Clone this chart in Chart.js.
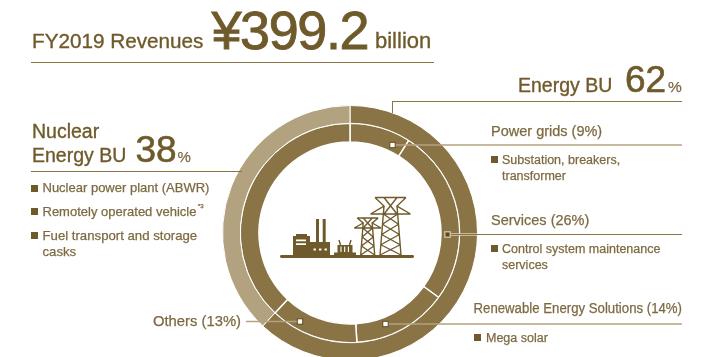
<!DOCTYPE html>
<html>
<head>
<meta charset="utf-8">
<title>FY2019 Revenues</title>
<script src="https://cdn.jsdelivr.net/npm/chart.js@4"></script>
<style>
    html, body { margin: 0; padding: 0; background: #fff; width: 722px; height: 357px; overflow: hidden; }
    #ringBox { position: absolute; left: 222px; top: 105px; width: 256px; height: 256px; }
    #overlay { position: absolute; left: 0; top: 0; }
    text { font-family: "Liberation Sans", Arial, sans-serif; fill: #7d6a42; stroke: #7d6a42; stroke-width: 0.25; }
    .head { fill: #6f5a2b; stroke: #6f5a2b; stroke-width: 0.35; }
    .big { fill: #6f5a2b; stroke: #6f5a2b; stroke-width: 0.9; }
    .lineDark { stroke: #8a7446; stroke-width: 1; }
    .lineLight { stroke: #b3a27f; stroke-width: 1.6; }
    .bullet { fill: #6f5a2b; }
    .anchor { fill: #fff; stroke: #5e4a20; stroke-width: 1; }
    .anchorDark { fill: #5e4a20; stroke: #d8cfb8; stroke-width: 1.2; }
    .icon { fill: #6f5a2b; }
    .lattice { fill: none; stroke: #6f5a2b; stroke-width: 1.4; }
</style>
</head>
<body>
<div id="ringBox"><canvas id="revenueChart" width="256" height="256"></canvas></div>
<svg id="overlay" width="722" height="357" xmlns="http://www.w3.org/2000/svg"></svg>
<script>
// FY2019 revenue split, in percent
const buNames = ['Energy BU', 'Nuclear Energy BU'];
const buValues = [62, 38];
const segmentNames = ['Power grids', 'Services', 'Renewable Energy Solutions', 'Others', 'Nuclear Energy BU'];
const segmentValues = [9, 26, 14, 13, 38];
const totalRevenue = '399.2';

const DARK = '#8a7446';
const LIGHT = '#b3a27f';

new Chart(document.getElementById('revenueChart'), {
    type: 'doughnut',
    data: {
        labels: buNames,
        datasets: [
            {
                label: 'Business unit',
                data: buValues,
                backgroundColor: [DARK, LIGHT],
                borderColor: '#fff',
                borderWidth: 1,
                weight: 18
            },
            {
                label: 'Segment',
                data: segmentValues,
                backgroundColor: DARK,
                borderColor: '#fff',
                borderWidth: 1.5,
                weight: 19
            }
        ]
    },
    options: {
        responsive: false,
        animation: false,
        cutout: 91,
        plugins: {
            legend: { display: false },
            tooltip: { enabled: false }
        }
    }
});

// Text, rules and the centre icon sit on top of the chart
const svg = document.getElementById('overlay');

function add(tag, attrs, content) {
    const el = document.createElementNS('http://www.w3.org/2000/svg', tag);
    Object.keys(attrs).forEach(k => el.setAttribute(k, attrs[k]));
    if (content !== undefined) el.textContent = content;
    svg.appendChild(el);
    return el;
}

function label(x, y, size, str, extra) {
    return add('text', Object.assign({ x: x, y: y, 'font-size': size }, extra || {}), str);
}

function rule(x1, y1, x2, y2, cls) {
    add('line', { x1: x1, y1: y1, x2: x2, y2: y2, class: cls });
}

function bullet(x, y) {
    add('rect', { x: x, y: y, width: 7, height: 7, class: 'bullet' });
}

function anchor(x, y, cls) {
    add('rect', { x: x - 2.7, y: y - 2.7, width: 5.4, height: 5.4, class: cls || 'anchor' });
}

// One pylon: mast, two arm levels and the cross bracing between the legs
function pylon(cx, top, arm, neckY, neckW, armTop, armMid, baseW, base, levels) {
    let d = `M${cx - armTop} ${top}H${cx + armTop}M${cx - armMid} ${arm}H${cx + armMid}`;
    d += `M${cx - armTop} ${top}L${cx - neckW} ${neckY}L${cx - armMid} ${arm}`;
    d += `M${cx + armTop} ${top}L${cx + neckW} ${neckY}L${cx + armMid} ${arm}`;
    d += `M${cx - neckW} ${top}L${cx + neckW} ${arm}M${cx + neckW} ${top}L${cx - neckW} ${arm}`;
    d += `M${cx - neckW} ${neckY}L${cx - baseW} ${base}M${cx + neckW} ${neckY}L${cx + baseW} ${base}`;
    const halfAt = y => neckW + (baseW - neckW) * (y - neckY) / (base - neckY);
    for (let i = 0; i < levels; i++) {
        const y1 = arm + (base - arm) * i / levels;
        const y2 = arm + (base - arm) * (i + 1) / levels;
        d += `M${cx - halfAt(y1)} ${y1}L${cx + halfAt(y2)} ${y2}M${cx + halfAt(y1)} ${y1}L${cx - halfAt(y2)} ${y2}`;
    }
    add('path', { class: 'lattice', d: d });
}

// Title
label(32, 48, 20.7, 'FY2019 Revenues', { class: 'head' });
label(211.5, 49, 54, '¥' + totalRevenue, { class: 'big', textLength: 158 });
label(375, 48, 22, 'billion', { class: 'head' });
rule(31, 62.5, 434, 62.5, 'lineDark');

// Nuclear Energy BU block
label(32, 138, 19.5, 'Nuclear', { class: 'head' });
label(32, 162, 19.5, 'Energy BU', { class: 'head' });
label(135.5, 162, 37, String(buValues[1]), { class: 'big', style: 'stroke-width:0.6' });
label(177.5, 162, 15, '%');
rule(31, 171.5, 242, 171.5, 'lineDark');
bullet(31, 185);
label(42.5, 192, 13, 'Nuclear power plant (ABWR)');
bullet(31, 208);
label(42.5, 216, 13, 'Remotely operated vehicle');
label(198, 208, 6, '*3');
bullet(31, 232);
label(42.5, 240, 13.2, 'Fuel transport and storage');
label(42.5, 256, 13.2, 'casks');

// Energy BU block
label(518, 92, 19.5, 'Energy BU', { class: 'head' });
label(625, 92, 37, String(buValues[0]), { class: 'big', style: 'stroke-width:0.6' });
label(668, 92, 15.5, '%');
rule(392.5, 101.5, 682, 101.5, 'lineDark');
rule(392.5, 101, 392.5, 113, 'lineDark');

// Segment call-outs
label(491, 136, 14.5, segmentNames[0] + ' (' + segmentValues[0] + '%)');
rule(392, 145, 682, 145, 'lineLight');
anchor(392.5, 145);
bullet(491, 156);
label(502, 164, 12.5, 'Substation, breakers,');
label(502, 180, 12.5, 'transformer');

label(491, 225, 14.5, segmentNames[1] + ' (' + segmentValues[1] + '%)');
add('line', { x1: 448, y1: 234.5, x2: 477, y2: 234.5, stroke: '#d8cfb8', 'stroke-width': 2.5 });
rule(448, 234.5, 682, 234.5, 'lineDark');
anchor(447.5, 234.5, 'anchorDark');
bullet(491, 245);
label(502, 253, 12.5, 'Control system maintenance');
label(502, 269, 12.5, 'services');

label(473.5, 313, 14, segmentNames[2] + ' (' + segmentValues[2] + '%)', { textLength: 208.5, lengthAdjust: 'spacingAndGlyphs' });
rule(386, 324, 682, 324, 'lineLight');
anchor(385.5, 324);
bullet(474, 334);
label(486, 342, 12.5, 'Mega solar');

label(153, 326, 14.8, segmentNames[3] + ' (' + segmentValues[3] + '%)');
rule(246, 321.5, 300, 321.5, 'lineLight');
anchor(300, 321.5);

// Centre icon: ground, factory, transformer, two pylons
add('rect', { x: 280, y: 255, width: 134, height: 3, rx: 1.4, class: 'icon' });
add('path', { class: 'icon', d: 'M293 255.5V236h3v-2h11v2h3v6h6V219h3v23h3.7V219h3v23h4.3v13.5z' });
add('path', { d: 'M296 239.5h10v1.8h-10zM296 243.3h10v1.8h-10zM313.5 248.5h2.4v2h-2.4zM319 248.5h2.4v2h-2.4zM324.5 248.5h2.4v2h-2.4z', fill: '#fff' });
add('path', { class: 'icon', d: 'M334 255.5v-3h3.5v-7.5h15v7.5h3.5v3z' });
add('path', { d: 'M341 246.5v5.5M344.7 246.5v5.5M348.4 246.5v5.5', stroke: '#fff', 'stroke-width': 1.1, fill: 'none' });
add('path', { class: 'lattice', d: 'M340.5 245l-1.5-5M349.5 245l1.5-5' });
pylon(367.7, 218, 228, 223, 4.5, 10.5, 13.5, 7, 255, 3);
pylon(390.5, 197.5, 214, 206, 6.5, 15.5, 20, 10.5, 255, 4);
</script>
</body>
</html>
